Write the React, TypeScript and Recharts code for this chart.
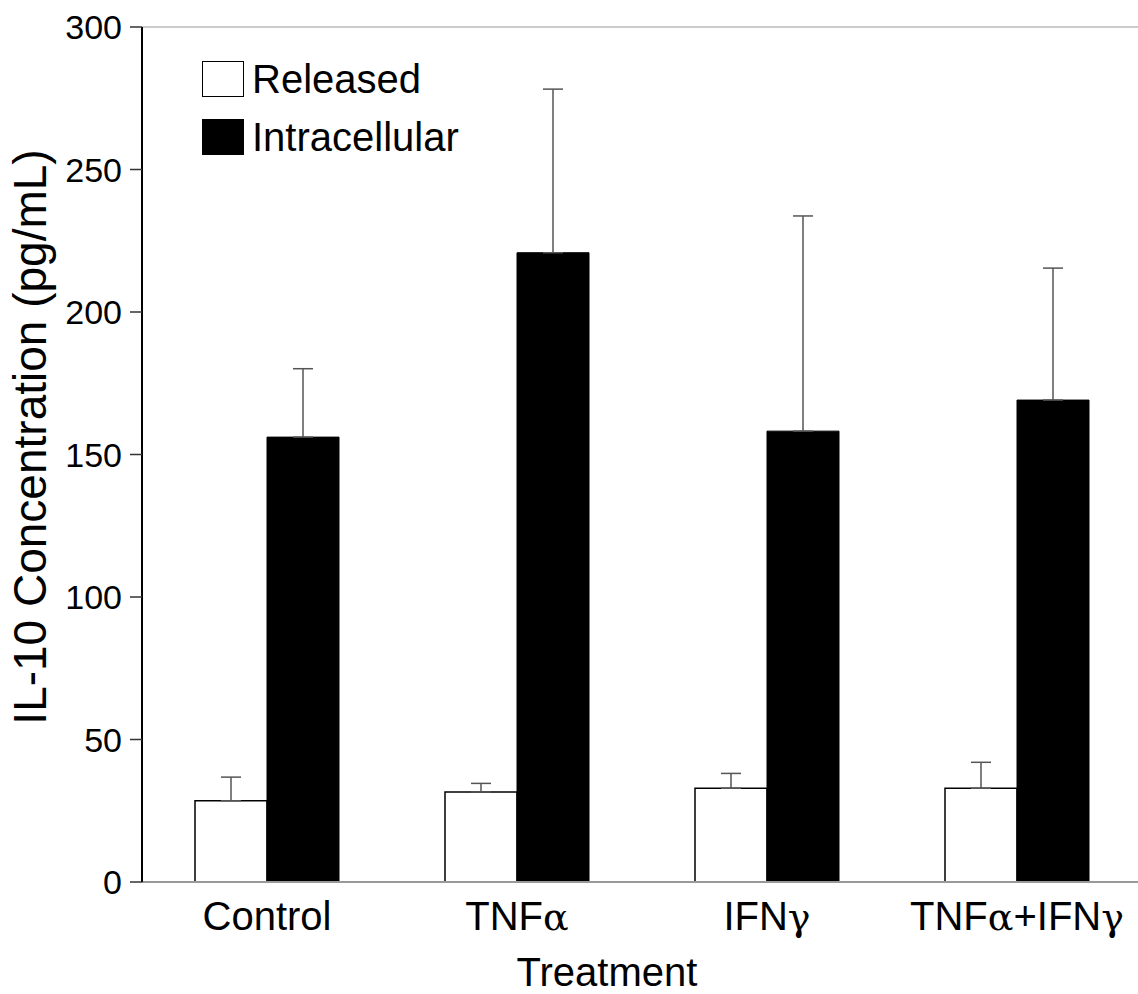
import { BarChart, Bar, XAxis, YAxis, ErrorBar, Legend, ReferenceLine } from 'recharts';

const treatments = ['Control', 'TNFα', 'IFNγ', 'TNFα+IFNγ'];
const released = [28.5, 31.6, 32.9, 32.9];
const releasedErr = [8.3, 3.0, 5.2, 9.1];
const intracellular = [156.1, 220.8, 158.2, 169.1];
const intracellularErr = [24.0, 57.4, 75.5, 46.3];
const yTicks = [0, 50, 100, 150, 200, 250, 300];

const data = treatments.map((name, i) => ({
  name,
  released: released[i],
  relErr: [0, releasedErr[i]],
  intracellular: intracellular[i],
  intErr: [0, intracellularErr[i]],
}));

const FONT = '"Liberation Sans", Arial, Helvetica, sans-serif';
const GREEK = '"DejaVu Serif", "Liberation Serif", serif';

// greek letters in the original use a serif symbol face
function CategoryTick({ x, y, payload }: any) {
  const parts = String(payload.value).split(/([αγ])/).filter(Boolean);
  return (
    <text x={x} y={y} dy={30} textAnchor="middle" fontFamily={FONT} fontSize={40} fill="#000">
      {parts.map((p, i) =>
        p === 'α' || p === 'γ' ? (
          <tspan key={i} style={{ fontFamily: GREEK }} fontSize={38}>{p}</tspan>
        ) : (
          <tspan key={i}>{p}</tspan>
        )
      )}
    </text>
  );
}

const legendItems = [
  { label: 'Released', fill: '#fff' },
  { label: 'Intracellular', fill: '#000' },
];

function ChartLegend() {
  return (
    <div style={{ fontFamily: FONT, fontSize: 40, color: '#000' }}>
      {legendItems.map((it) => (
        <div key={it.label} style={{ display: 'flex', alignItems: 'center', height: 58 }}>
          <span
            style={{
              display: 'inline-block',
              width: 40,
              height: 34,
              background: it.fill,
              border: '1px solid #000',
              marginRight: 8,
            }}
          />
          <span>{it.label}</span>
        </div>
      ))}
    </div>
  );
}

function YTitle() {
  return (
    <text
      x={46}
      y={437}
      transform="rotate(-90 46 437)"
      textAnchor="middle"
      fontFamily={FONT}
      fontSize={46}
      fill="#000"
    >
      IL-10 Concentration (pg/mL)
    </text>
  );
}

export default function App() {
  return (
    <div style={{ position: 'absolute', left: 0, top: 0, width: 1138, height: 994, overflow: 'hidden', background: '#fff' }}>
      <BarChart
        width={1142}
        height={994}
        data={data}
        margin={{ top: 27, right: 0, bottom: 0, left: 0 }}
        barGap={0}
        barSize={72}
      >
        <ReferenceLine y={300} stroke="#999" strokeWidth={1} ifOverflow="extendDomain" />
        <XAxis
          dataKey="name"
          height={112}
          axisLine={{ stroke: '#999', strokeWidth: 2 }}
          tickLine={false}
          tick={<CategoryTick />}
          tickSize={0}
          tickMargin={18}
          interval={0}
          label={{
            value: 'Treatment',
            position: 'insideBottom',
            offset: 8,
            dx: -35,
            style: { fontFamily: FONT, fontSize: 40, fill: '#000' },
          }}
        />
        <YAxis
          width={142}
          domain={[0, 300]}
          ticks={yTicks}
          interval={0}
          axisLine={{ stroke: '#000', strokeWidth: 2 }}
          tickLine={{ stroke: '#333', strokeWidth: 1.5 }}
          tickSize={12}
          tickMargin={8}
          tick={{ fontFamily: FONT, fontSize: 34, fill: '#000' }}
          label={{ content: () => <YTitle /> }}
        />
        <Legend
          layout="horizontal"
          verticalAlign="middle"
          align="center"
          content={() => <ChartLegend />}
          wrapperStyle={{ top: 50, left: 202, width: 320, height: 116 }}
        />
        <Bar dataKey="released" name="Released" fill="#fff" stroke="#000" strokeWidth={1.5} isAnimationActive={false}>
          <ErrorBar dataKey="relErr" direction="y" width={10} stroke="#555" strokeWidth={1.5} />
        </Bar>
        <Bar dataKey="intracellular" name="Intracellular" fill="#000" stroke="#000" strokeWidth={1} isAnimationActive={false}>
          <ErrorBar dataKey="intErr" direction="y" width={10} stroke="#555" strokeWidth={1.5} />
        </Bar>
      </BarChart>
    </div>
  );
}
